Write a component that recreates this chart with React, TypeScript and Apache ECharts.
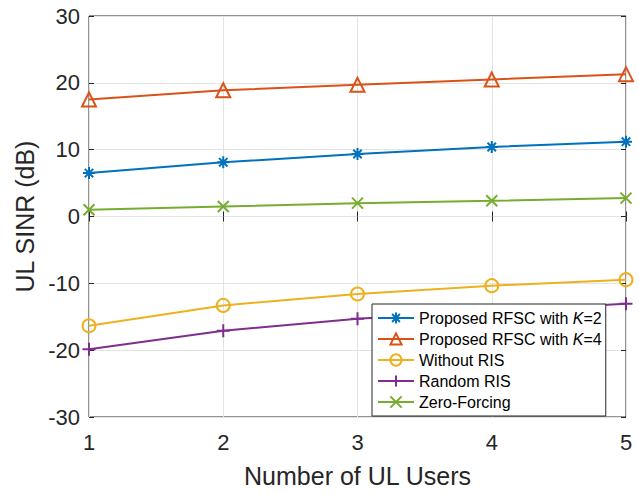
import React, { useEffect, useRef } from "react";
import * as echarts from "echarts";

const users = [1, 2, 3, 4, 5];
const k2Values = [6.5, 8.1, 9.35, 10.4, 11.2];
const k4Values = [17.5, 18.9, 19.7, 20.5, 21.3];
const withoutRisValues = [-16.35, -13.3, -11.6, -10.35, -9.45];
const randomRisValues = [-19.85, -17.1, -15.3, -14.1, -13.05];
const zeroForcingValues = [1.0, 1.5, 2.0, 2.35, 2.75];

const seriesNames = [
  "Proposed RFSC with K=2",
  "Proposed RFSC with K=4",
  "Without RIS",
  "Random RIS",
  "Zero-Forcing",
];
const yTicks = [-30, -20, -10, 0, 10, 20, 30];
const xTicks = [1, 2, 3, 4, 5];

const FONT = "'Liberation Sans', Arial, Helvetica, sans-serif";
const TXT = "#262626";

const PLUS = "path://M0,5L10,5M5,0L5,10";
const CROSS = "path://M0,0L10,10M0,10L10,0";
const ASTER = "path://M0,5L10,5M5,0L5,10M1.5,1.5L8.5,8.5M1.5,8.5L8.5,1.5";

function pairs(vals: number[]) {
  return users.map((u, i) => [u, vals[i]]);
}

function mkSeries(name: string, vals: number[], color: string, symbol: string, size: number) {
  return {
    name,
    type: "line",
    data: pairs(vals),
    symbol,
    symbolSize: size,
    showSymbol: true,
    lineStyle: { color, width: 2 },
    itemStyle: { color: "rgba(0,0,0,0)", borderColor: color, borderWidth: 2 },
    emphasis: { disabled: true },
    z: 3,
  };
}

export default function App() {
  const ref = useRef<HTMLDivElement>(null);
  useEffect(() => {
    if (!ref.current) return;
    const chart = echarts.init(ref.current, undefined, { renderer: "svg" });
    const option = {
      animation: false,
      backgroundColor: "#ffffff",
      textStyle: { fontFamily: FONT },
      grid: {
        left: 89,
        right: 13,
        top: 16,
        bottom: 71,
        show: true,
        borderColor: TXT,
        borderWidth: 1,
        backgroundColor: "#ffffff",
      },
      legend: {
        orient: "vertical",
        left: 372,
        top: 304,
        padding: [6, 4, 6, 5],
        itemWidth: 36,
        itemHeight: 14,
        itemGap: 5,
        backgroundColor: "#ffffff",
        borderColor: TXT,
        borderWidth: 1,
        borderRadius: 0,
        data: seriesNames,
        formatter: (name: string) => {
          const m = name.match(/^(.*with )K=(\d)$/);
          if (m) return `{n|${m[1]}}{i|K}{n|=${m[2]}}`;
          return `{n|${name}}`;
        },
        textStyle: {
          color: "#000",
          fontFamily: FONT,
          fontSize: 16,
          lineHeight: 16,
          rich: {
            n: { fontFamily: FONT, fontSize: 16, lineHeight: 16, color: "#000" },
            i: { fontFamily: FONT, fontSize: 16, lineHeight: 16, color: "#000", fontStyle: "italic" },
          },
        },
      },
      xAxis: [
        {
          type: "value",
          min: xTicks[0],
          max: xTicks[xTicks.length - 1],
          interval: 1,
          name: "Number of UL Users",
          nameLocation: "middle",
          nameGap: 46,
          nameTextStyle: { fontFamily: FONT, fontSize: 25, color: TXT },
          axisLine: { show: false },
          axisTick: { show: true, inside: true, length: 5, lineStyle: { color: TXT } },
          axisLabel: { fontFamily: FONT, fontSize: 22, color: TXT, margin: 14 },
          splitLine: { show: true, lineStyle: { color: "#e3e3e3", width: 1 } },
        },
        {
          type: "value",
          position: "top",
          min: xTicks[0],
          max: xTicks[xTicks.length - 1],
          interval: 1,
          axisLine: { show: false },
          axisTick: { show: true, inside: true, length: 5, lineStyle: { color: TXT } },
          axisLabel: { show: false },
          splitLine: { show: false },
        },
      ],
      yAxis: [
        {
          type: "value",
          min: yTicks[0],
          max: yTicks[yTicks.length - 1],
          interval: 10,
          name: "UL SINR (dB)",
          nameLocation: "middle",
          nameGap: 50,
          nameTextStyle: { fontFamily: FONT, fontSize: 25, color: TXT },
          axisLine: { show: false },
          axisTick: { show: true, inside: true, length: 5, lineStyle: { color: TXT } },
          axisLabel: { fontFamily: FONT, fontSize: 22, color: TXT, margin: 9 },
          splitLine: { show: true, lineStyle: { color: "#e3e3e3", width: 1 } },
        },
        {
          type: "value",
          position: "right",
          min: yTicks[0],
          max: yTicks[yTicks.length - 1],
          interval: 10,
          axisLine: { show: false },
          axisTick: { show: true, inside: true, length: 5, lineStyle: { color: TXT } },
          axisLabel: { show: false },
          splitLine: { show: false },
        },
      ],
      series: [
        mkSeries(seriesNames[0], k2Values, "#0072BD", ASTER, 12),
        mkSeries(seriesNames[1], k4Values, "#D95319", "triangle", 14),
        mkSeries(seriesNames[2], withoutRisValues, "#EDB120", "circle", 13),
        mkSeries(seriesNames[3], randomRisValues, "#7E2F8E", PLUS, 13),
        mkSeries(seriesNames[4], zeroForcingValues, "#77AC30", CROSS, 11),
      ],
    };
    chart.setOption(option as any);
    return () => chart.dispose();
  }, []);
  return (
    <div
      ref={ref}
      style={{ position: "absolute", left: 0, top: 0, width: 639, height: 493 }}
    />
  );
}
